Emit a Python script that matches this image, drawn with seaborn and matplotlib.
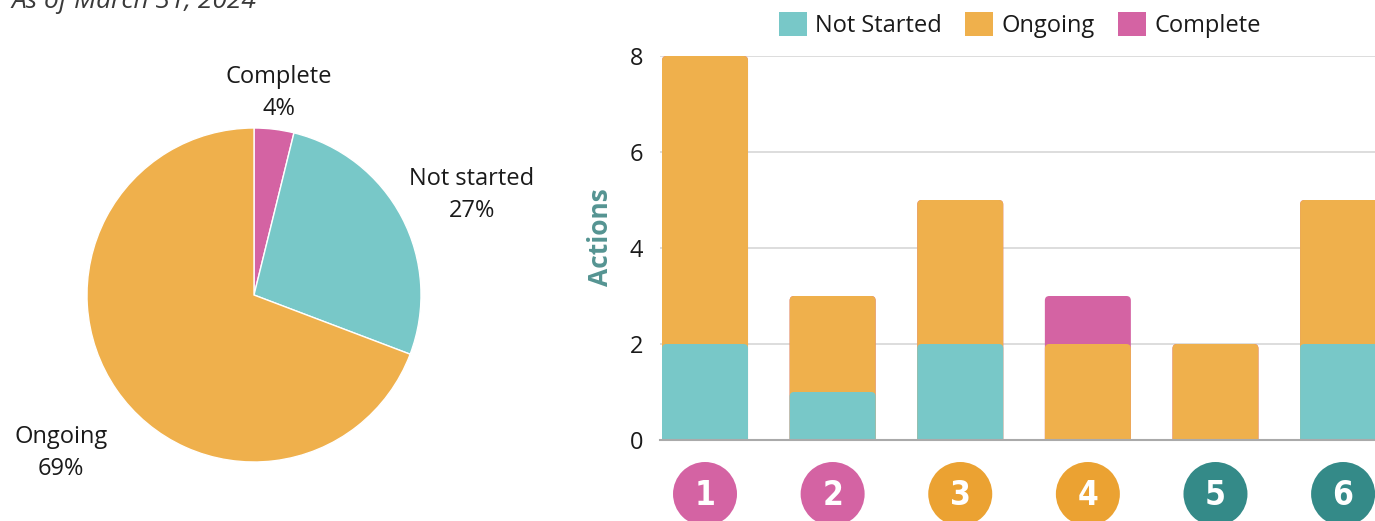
import numpy as np
import pandas as pd
import matplotlib
matplotlib.use("Agg")
import matplotlib.pyplot as plt
from matplotlib.patches import Patch, FancyBboxPatch
import seaborn as sns

# ---- data ----
actions = ["1", "2", "3", "4", "5", "6"]
not_started = [2, 1, 2, 0, 0, 2]
ongoing = [6, 2, 3, 2, 2, 3]
complete = [0, 0, 0, 1, 0, 0]

pie_labels = ["Complete", "Not started", "Ongoing"]
pie_values = [sum(complete), sum(not_started), sum(ongoing)]

legend_labels = ["Not Started", "Ongoing", "Complete"]
title_text = "As of March 31, 2024"
y_label = "Actions"
y_ticks = [0, 2, 4, 6, 8]

# ---- style ----
C_TEAL = "#78C8C8"
C_ORANGE = "#EFB04C"
C_PINK = "#D463A3"
badge_colors = ["#D463A3", "#D463A3", "#EBA232", "#EBA232", "#348A88", "#348A88"]

sns.set_theme(style="white")
plt.rcParams["font.family"] = ["Open Sans", "DejaVu Sans"]

W, H = 1375, 521
fig = plt.figure(figsize=(W / 100, H / 100), dpi=100)

# ---- title (cut at top, as in the reference) ----
fig.text(11 / W, 1 - 8 / H, title_text, fontsize=19, style="italic",
         color="#3a3a3a", ha="left", va="baseline")

# ---- pie ----
ax_pie = fig.add_axes([87 / W, 59 / H, 334 / W, 334 / H])
ax_pie.pie(pie_values, colors=[C_PINK, C_TEAL, C_ORANGE], startangle=90,
           counterclock=False, wedgeprops=dict(edgecolor="white", linewidth=1))
ax_pie.set_xlim(-1, 1)
ax_pie.set_ylim(-1, 1)
ax_pie.set_aspect("equal")
ax_pie.axis("off")

total = sum(pie_values)
label_pos = {"Complete": (279, 93), "Not started": (472, 195), "Ongoing": (61, 453)}
for lab, val in zip(pie_labels, pie_values):
    px, py = label_pos[lab]
    fig.text(px / W, 1 - py / H, f"{lab}\n{round(100 * val / total)}%",
             ha="center", va="center", multialignment="center",
             fontsize=17, color="#1a1a1a", linespacing=1.45)

# ---- stacked bars ----
df = pd.DataFrame({"action": actions, "ns": not_started, "og": ongoing, "cp": complete})
df["lvl1"] = df["ns"]
df["lvl2"] = df["ns"] + df["og"]
df["lvl3"] = df["ns"] + df["og"] + df["cp"]

ax = fig.add_axes([660 / W, 81 / H, (W - 660) / W, 384 / H])
bw = 0.674
sns.barplot(data=df, x="action", y="lvl3", order=actions, color=C_PINK,
            width=bw, saturation=1, ax=ax, linewidth=0)
sns.barplot(data=df, x="action", y="lvl2", order=actions, color=C_ORANGE,
            width=bw, saturation=1, ax=ax, linewidth=0)
sns.barplot(data=df, x="action", y="lvl1", order=actions, color=C_TEAL,
            width=bw, saturation=1, ax=ax, linewidth=0)

ax.set_xlim(-0.3527, 5.25)
ax.set_ylim(0, 8)

# round the top corners of the bars (bottom extended under the axis, clipped)
px_per_x = ax.get_position().width * W / (5.25 + 0.3527)
px_per_y = ax.get_position().height * H / 8
r_x = 4.5 / px_per_x
aspect = px_per_x / px_per_y
for p in list(ax.patches):
    x0, y0 = p.get_x(), p.get_y()
    w, h = p.get_width(), p.get_height()
    fc = p.get_facecolor()
    z = p.get_zorder()
    p.remove()
    ext = 0.3
    fb = FancyBboxPatch((x0, y0 - ext), w, h + ext,
                        boxstyle=f"round,pad=0,rounding_size={r_x}",
                        mutation_aspect=aspect, facecolor=fc, edgecolor="none",
                        linewidth=0, zorder=z)
    ax.add_patch(fb)

ax.set_yticks(y_ticks)
ax.set_yticklabels([str(t) for t in y_ticks], fontsize=17, color="#1a1a1a")
ax.tick_params(axis="y", length=0, pad=12)
ax.tick_params(axis="x", length=0)
ax.set_xticklabels([])
ax.set_xlabel("")
ax.set_ylabel("")
ax.yaxis.grid(True, color="#DDDDDD", linewidth=1.4)
ax.set_axisbelow(True)
for s in ["top", "right", "left"]:
    ax.spines[s].set_visible(False)
ax.spines["bottom"].set_color("#AAAAAA")
ax.spines["bottom"].set_linewidth(1.5)
ax.spines["bottom"].set_zorder(10)

fig.text(600 / W, 1 - 237 / H, y_label, rotation=90, fontsize=19,
         fontweight="bold", color="#559492", ha="center", va="center")

# ---- numbered badges under the bars ----
trans = ax.get_xaxis_transform()
badge_y = (H - 494 - 81) / 384
xs = np.arange(len(actions))
ax.scatter(xs, [badge_y] * len(actions), s=(64 * 0.72) ** 2, c=badge_colors,
           transform=trans, clip_on=False, linewidths=0, zorder=5)
for x, a in zip(xs, actions):
    ax.text(x, badge_y - 0.005, a, transform=trans, ha="center", va="center",
            fontsize=24, fontweight="bold", fontstretch="condensed", color="white",
            family=["DejaVu Sans"], clip_on=False, zorder=6)

# ---- legend ----
handles = [Patch(facecolor=c, edgecolor="none") for c in [C_TEAL, C_ORANGE, C_PINK]]
fig.legend(handles, legend_labels, loc="center", bbox_to_anchor=(1020 / W, 1 - 25 / H),
           ncol=3, frameon=False, fontsize=17, handlelength=1.18, handleheight=1.18,
           handletextpad=0.35, columnspacing=1.0, borderpad=0, labelcolor="#1a1a1a")

fig.savefig("out.png", dpi=100)
